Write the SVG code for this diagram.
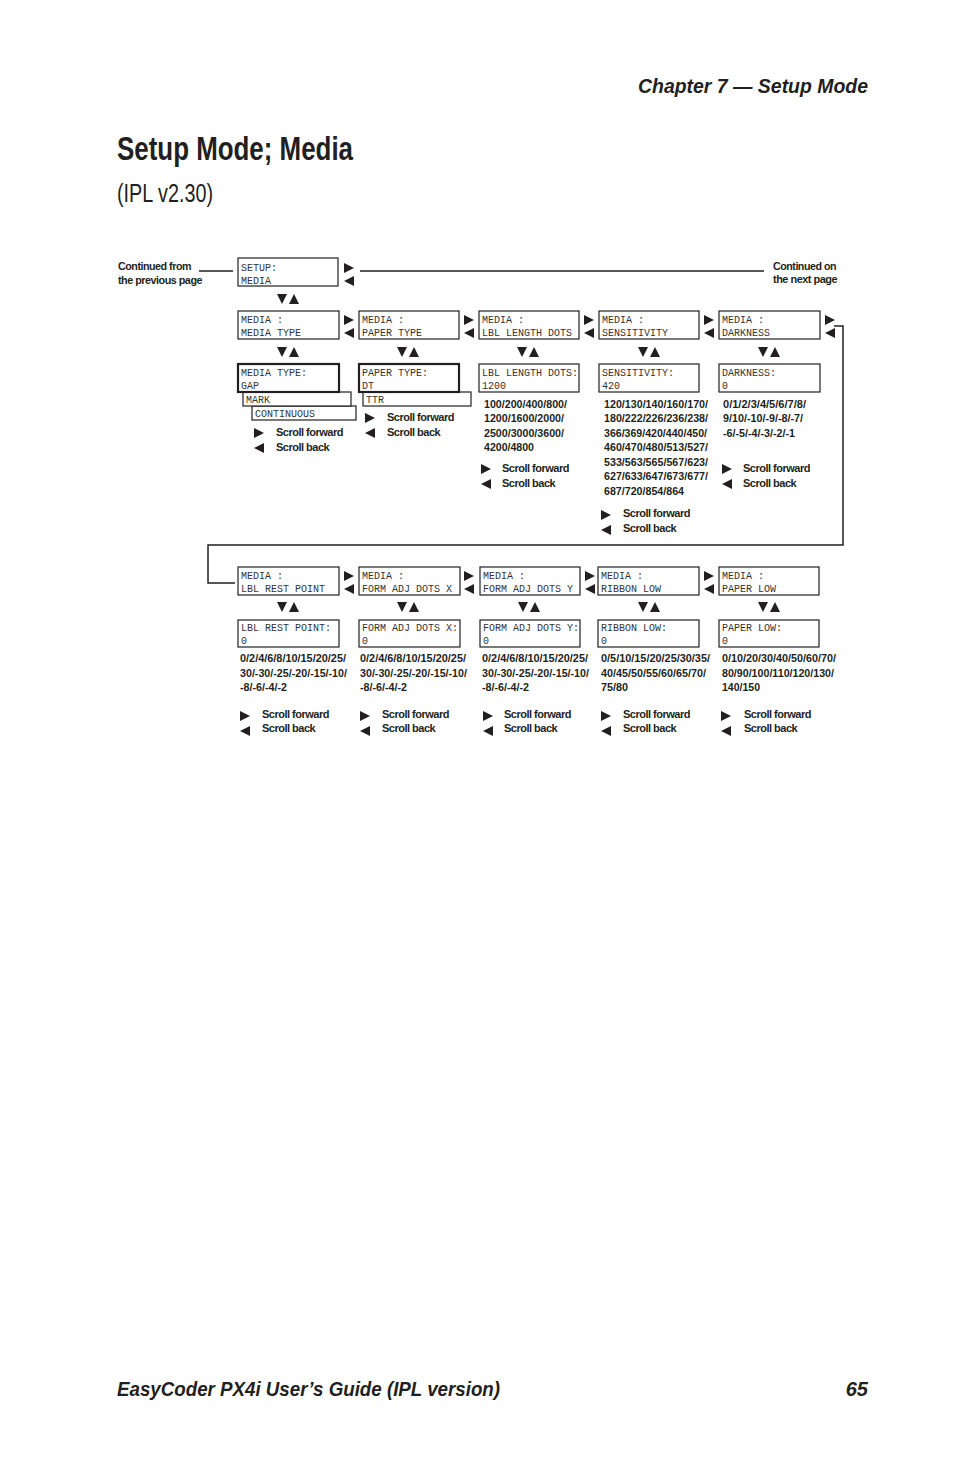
<svg xmlns="http://www.w3.org/2000/svg" width="954" height="1475" viewBox="0 0 954 1475">
<style>
.bx{fill:#fff;stroke:#231f20;stroke-width:1.2}
.tk{fill:#fff;stroke:#231f20;stroke-width:2.2}
.m{font-family:"Liberation Mono",monospace;font-size:10px;fill:#333}
.s{font-family:"Liberation Sans",sans-serif;font-weight:bold;font-size:11px;letter-spacing:-0.5px;fill:#231f20}
.v{font-family:"Liberation Sans",sans-serif;font-weight:bold;font-size:11px;fill:#231f20}
.ln{fill:none;stroke:#231f20;stroke-width:1.5}
.hd{font-family:"Liberation Sans",sans-serif;font-weight:bold;font-style:italic;fill:#231f20}
</style>
<defs>
<polygon id="r" points="0,0 10,5 0,10" fill="#231f20"/>
<polygon id="l" points="10,0 0,5 10,10" fill="#231f20"/>
<g id="du"><polygon points="0,0 10,0 5,10" fill="#231f20"/><polygon points="12,10 22,10 17,0" fill="#231f20"/></g>
<g id="rl"><use href="#r" x="0" y="0"/><use href="#l" x="0" y="13"/></g>
<g id="sc"><use href="#r" x="0" y="0"/><use href="#l" x="0" y="15"/></g>
</defs>
<rect width="954" height="1475" fill="#fff"/>
<text class="hd" x="868" y="93" font-size="20" text-anchor="end" textLength="230" lengthAdjust="spacingAndGlyphs">Chapter 7 — Setup Mode</text>
<text x="117" y="160" font-family="Liberation Sans,sans-serif" font-weight="bold" font-size="33" fill="#231f20" textLength="236" lengthAdjust="spacingAndGlyphs">Setup Mode; Media</text>
<text x="117" y="202" font-family="Liberation Sans,sans-serif" font-size="25" fill="#231f20" textLength="96" lengthAdjust="spacingAndGlyphs">(IPL v2.30)</text>
<text class="hd" x="117" y="1396" font-size="20" textLength="383" lengthAdjust="spacingAndGlyphs">EasyCoder PX4i User’s Guide (IPL version)</text>
<text class="hd" x="868" y="1396" font-size="20" text-anchor="end">65</text>

<g id="connectors">
<line class="ln" x1="199" y1="271" x2="233" y2="271"/>
<line class="ln" x1="360" y1="271" x2="764" y2="271"/>
<polyline class="ln" points="834,326 843,326 843,545 208,545 208,583 235,583"/>
<use href="#rl" x="344" y="263"/>
<use href="#du" x="277" y="294"/>
<use href="#rl" x="344" y="315"/><use href="#rl" x="464" y="315"/><use href="#rl" x="584" y="315"/><use href="#rl" x="704" y="315"/><use href="#rl" x="825" y="315"/>
<use href="#du" x="277" y="347"/><use href="#du" x="397" y="347"/><use href="#du" x="517" y="347"/><use href="#du" x="638" y="347"/><use href="#du" x="758" y="347"/>
<use href="#rl" x="344" y="571"/><use href="#rl" x="464" y="571"/><use href="#rl" x="585" y="571"/><use href="#rl" x="704" y="571"/>
<use href="#du" x="277" y="602"/><use href="#du" x="397" y="602"/><use href="#du" x="518" y="602"/><use href="#du" x="638" y="602"/><use href="#du" x="758" y="602"/>
</g>

<g id="cont-prev"><text class="s" x="118" y="270" font-size="10" textLength="73" lengthAdjust="spacingAndGlyphs">Continued from</text><text class="s" x="118" y="284" font-size="10" textLength="84" lengthAdjust="spacingAndGlyphs">the previous page</text></g>
<g id="cont-next"><text class="s" x="773" y="270" font-size="10" textLength="63" lengthAdjust="spacingAndGlyphs">Continued on</text><text class="s" x="773" y="283" font-size="10" textLength="64" lengthAdjust="spacingAndGlyphs">the next page</text></g>

<g id="setup"><rect class="bx" x="238" y="258" width="100" height="28"/><text class="m" x="241" y="271">SETUP:</text><text class="m" x="241" y="284">MEDIA</text></g>

<g id="media-type"><rect class="bx" x="238" y="311" width="101" height="28"/><text class="m" x="241" y="323">MEDIA :</text><text class="m" x="241" y="336">MEDIA TYPE</text></g>
<g id="paper-type"><rect class="bx" x="359" y="311" width="100" height="28"/><text class="m" x="362" y="323">MEDIA :</text><text class="m" x="362" y="336">PAPER TYPE</text></g>
<g id="lbl-length"><rect class="bx" x="479" y="311" width="100" height="28"/><text class="m" x="482" y="323">MEDIA :</text><text class="m" x="482" y="336">LBL LENGTH DOTS</text></g>
<g id="sensitivity"><rect class="bx" x="599" y="311" width="100" height="28"/><text class="m" x="602" y="323">MEDIA :</text><text class="m" x="602" y="336">SENSITIVITY</text></g>
<g id="darkness"><rect class="bx" x="719" y="311" width="101" height="28"/><text class="m" x="722" y="323">MEDIA :</text><text class="m" x="722" y="336">DARKNESS</text></g>

<g id="media-type-val">
<rect class="bx" x="252" y="406" width="104" height="14"/><text class="m" x="255" y="417">CONTINUOUS</text>
<rect class="bx" x="243" y="392" width="108" height="14"/><text class="m" x="246" y="403">MARK</text>
<rect class="tk" x="238" y="364" width="101" height="28"/><text class="m" x="241" y="376">MEDIA TYPE:</text><text class="m" x="241" y="389">GAP</text>
<use href="#sc" x="254" y="428"/><text class="s" x="276" y="436">Scroll forward</text><text class="s" x="276" y="451">Scroll back</text>
</g>
<g id="paper-type-val">
<rect class="bx" x="363" y="392" width="108" height="14"/><text class="m" x="366" y="403">TTR</text>
<rect class="tk" x="359" y="364" width="100" height="28"/><text class="m" x="362" y="376">PAPER TYPE:</text><text class="m" x="362" y="389">DT</text>
<use href="#sc" x="365" y="413"/><text class="s" x="387" y="421">Scroll forward</text><text class="s" x="387" y="436">Scroll back</text>
</g>
<g id="lbl-length-val">
<rect class="bx" x="479" y="364" width="100" height="28"/><text class="m" x="482" y="376">LBL LENGTH DOTS:</text><text class="m" x="482" y="389">1200</text>
<text class="v" x="484" y="408" textLength="83" lengthAdjust="spacingAndGlyphs">100/200/400/800/</text>
<text class="v" x="484" y="422" textLength="80" lengthAdjust="spacingAndGlyphs">1200/1600/2000/</text>
<text class="v" x="484" y="437" textLength="80" lengthAdjust="spacingAndGlyphs">2500/3000/3600/</text>
<text class="v" x="484" y="451" textLength="50" lengthAdjust="spacingAndGlyphs">4200/4800</text>
<use href="#sc" x="481" y="464"/><text class="s" x="502" y="472">Scroll forward</text><text class="s" x="502" y="487">Scroll back</text>
</g>
<g id="sensitivity-val">
<rect class="bx" x="599" y="364" width="100" height="28"/><text class="m" x="602" y="376">SENSITIVITY:</text><text class="m" x="602" y="389">420</text>
<text class="v" x="604" y="408" textLength="104" lengthAdjust="spacingAndGlyphs">120/130/140/160/170/</text>
<text class="v" x="604" y="422" textLength="104" lengthAdjust="spacingAndGlyphs">180/222/226/236/238/</text>
<text class="v" x="604" y="437" textLength="103" lengthAdjust="spacingAndGlyphs">366/369/420/440/450/</text>
<text class="v" x="604" y="451" textLength="104" lengthAdjust="spacingAndGlyphs">460/470/480/513/527/</text>
<text class="v" x="604" y="466" textLength="104" lengthAdjust="spacingAndGlyphs">533/563/565/567/623/</text>
<text class="v" x="604" y="480" textLength="104" lengthAdjust="spacingAndGlyphs">627/633/647/673/677/</text>
<text class="v" x="604" y="495" textLength="80" lengthAdjust="spacingAndGlyphs">687/720/854/864</text>
<use href="#sc" x="601" y="510"/><text class="s" x="623" y="517">Scroll forward</text><text class="s" x="623" y="532">Scroll back</text>
</g>
<g id="darkness-val">
<rect class="bx" x="719" y="364" width="101" height="28"/><text class="m" x="722" y="376">DARKNESS:</text><text class="m" x="722" y="389">0</text>
<text class="v" x="723" y="408" textLength="83" lengthAdjust="spacingAndGlyphs">0/1/2/3/4/5/6/7/8/</text>
<text class="v" x="723" y="422" textLength="80" lengthAdjust="spacingAndGlyphs">9/10/-10/-9/-8/-7/</text>
<text class="v" x="723" y="437" textLength="72" lengthAdjust="spacingAndGlyphs">-6/-5/-4/-3/-2/-1</text>
<use href="#sc" x="722" y="464"/><text class="s" x="743" y="472">Scroll forward</text><text class="s" x="743" y="487">Scroll back</text>
</g>

<g id="rest-point"><rect class="bx" x="238" y="567" width="101" height="28"/><text class="m" x="241" y="579">MEDIA :</text><text class="m" x="241" y="592">LBL REST POINT</text></g>
<g id="form-x"><rect class="bx" x="359" y="567" width="101" height="28"/><text class="m" x="362" y="579">MEDIA :</text><text class="m" x="362" y="592">FORM ADJ DOTS X</text></g>
<g id="form-y"><rect class="bx" x="480" y="567" width="100" height="28"/><text class="m" x="483" y="579">MEDIA :</text><text class="m" x="483" y="592">FORM ADJ DOTS Y</text></g>
<g id="ribbon-low"><rect class="bx" x="598" y="567" width="101" height="28"/><text class="m" x="601" y="579">MEDIA :</text><text class="m" x="601" y="592">RIBBON LOW</text></g>
<g id="paper-low"><rect class="bx" x="719" y="567" width="100" height="28"/><text class="m" x="722" y="579">MEDIA :</text><text class="m" x="722" y="592">PAPER LOW</text></g>

<g id="rest-point-val">
<rect class="bx" x="238" y="620" width="101" height="27"/><text class="m" x="241" y="631">LBL REST POINT:</text><text class="m" x="241" y="644">0</text>
<text class="v" x="240" y="662" textLength="106" lengthAdjust="spacingAndGlyphs">0/2/4/6/8/10/15/20/25/</text>
<text class="v" x="240" y="677" textLength="107" lengthAdjust="spacingAndGlyphs">30/-30/-25/-20/-15/-10/</text>
<text class="v" x="240" y="691" textLength="47" lengthAdjust="spacingAndGlyphs">-8/-6/-4/-2</text>
<use href="#sc" x="240" y="711"/><text class="s" x="262" y="718">Scroll forward</text><text class="s" x="262" y="732">Scroll back</text>
</g>
<g id="form-x-val">
<rect class="bx" x="359" y="620" width="101" height="27"/><text class="m" x="362" y="631">FORM ADJ DOTS X:</text><text class="m" x="362" y="644">0</text>
<text class="v" x="360" y="662" textLength="106" lengthAdjust="spacingAndGlyphs">0/2/4/6/8/10/15/20/25/</text>
<text class="v" x="360" y="677" textLength="107" lengthAdjust="spacingAndGlyphs">30/-30/-25/-20/-15/-10/</text>
<text class="v" x="360" y="691" textLength="47" lengthAdjust="spacingAndGlyphs">-8/-6/-4/-2</text>
<use href="#sc" x="360" y="711"/><text class="s" x="382" y="718">Scroll forward</text><text class="s" x="382" y="732">Scroll back</text>
</g>
<g id="form-y-val">
<rect class="bx" x="480" y="620" width="100" height="27"/><text class="m" x="483" y="631">FORM ADJ DOTS Y:</text><text class="m" x="483" y="644">0</text>
<text class="v" x="482" y="662" textLength="106" lengthAdjust="spacingAndGlyphs">0/2/4/6/8/10/15/20/25/</text>
<text class="v" x="482" y="677" textLength="107" lengthAdjust="spacingAndGlyphs">30/-30/-25/-20/-15/-10/</text>
<text class="v" x="482" y="691" textLength="47" lengthAdjust="spacingAndGlyphs">-8/-6/-4/-2</text>
<use href="#sc" x="483" y="711"/><text class="s" x="504" y="718">Scroll forward</text><text class="s" x="504" y="732">Scroll back</text>
</g>
<g id="ribbon-low-val">
<rect class="bx" x="598" y="620" width="101" height="27"/><text class="m" x="601" y="631">RIBBON LOW:</text><text class="m" x="601" y="644">0</text>
<text class="v" x="601" y="662" textLength="109" lengthAdjust="spacingAndGlyphs">0/5/10/15/20/25/30/35/</text>
<text class="v" x="601" y="677" textLength="105" lengthAdjust="spacingAndGlyphs">40/45/50/55/60/65/70/</text>
<text class="v" x="601" y="691" textLength="27" lengthAdjust="spacingAndGlyphs">75/80</text>
<use href="#sc" x="601" y="711"/><text class="s" x="623" y="718">Scroll forward</text><text class="s" x="623" y="732">Scroll back</text>
</g>
<g id="paper-low-val">
<rect class="bx" x="719" y="620" width="100" height="27"/><text class="m" x="722" y="631">PAPER LOW:</text><text class="m" x="722" y="644">0</text>
<text class="v" x="722" y="662" textLength="114" lengthAdjust="spacingAndGlyphs">0/10/20/30/40/50/60/70/</text>
<text class="v" x="722" y="677" textLength="112" lengthAdjust="spacingAndGlyphs">80/90/100/110/120/130/</text>
<text class="v" x="722" y="691" textLength="38" lengthAdjust="spacingAndGlyphs">140/150</text>
<use href="#sc" x="721" y="711"/><text class="s" x="744" y="718">Scroll forward</text><text class="s" x="744" y="732">Scroll back</text>
</g>
</svg>
